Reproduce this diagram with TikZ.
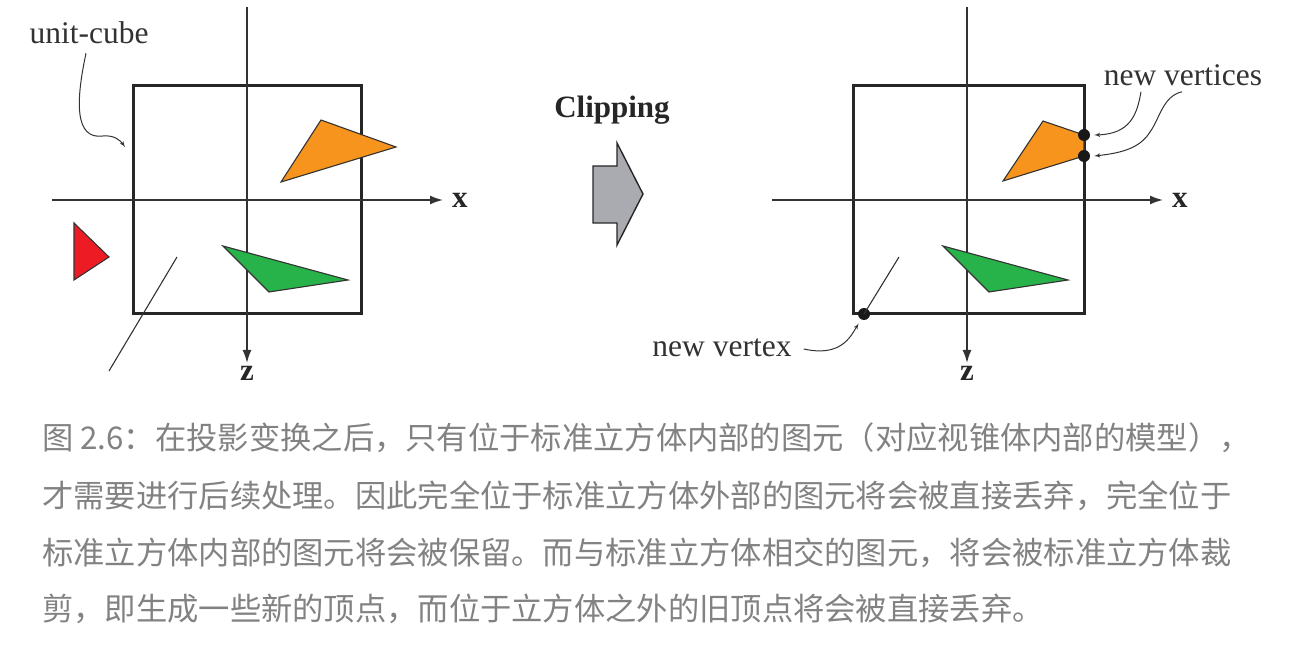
\documentclass[tikz,border=0pt]{standalone}
\usepackage{fontspec}
\setmainfont{Liberation Serif}
\newfontfamily\cjk{Noto Sans CJK SC}
\usetikzlibrary{arrows,arrows.meta,calc,positioning}
\definecolor{triorange}{RGB}{247,148,29}
\definecolor{trigreen}{RGB}{40,178,74}
\definecolor{trired}{RGB}{237,28,36}
\definecolor{labelgray}{RGB}{50,50,50}
\definecolor{capgray}{RGB}{130,130,130}
\definecolor{arrowgray}{RGB}{170,171,176}

\begin{document}
\begin{tikzpicture}[x=1pt,y=-1pt,>=latex']
	\tikzstyle{cube} = [draw=black!85, line width=3pt]
	\tikzstyle{axis} = [draw=black!80, line width=1.6pt, -{Latex[length=13pt,width=9pt]}]
	\tikzstyle{tri} = [draw=black!80, line width=1.1pt]
	\tikzstyle{lbl} = [font=\fontsize{31.5}{36}\selectfont, text=labelgray, inner sep=0pt]
	\tikzstyle{axlbl} = [font=\fontsize{31}{34}\selectfont\bfseries, text=black!85, inner sep=0pt]
	\tikzstyle{pointer} = [->, draw=black!80, line width=1pt]
	\tikzstyle{newpt} = [circle, fill=black!90, inner sep=0pt, minimum size=12pt]
	\tikzstyle{caption} = [font=\cjk\fontsize{31.3}{36}\selectfont, text=capgray, anchor=west, inner sep=0pt]
	
	\useasboundingbox (0,0) rectangle (1299,652);
	
	% before clipping
	\draw [cube] (133,86) rectangle (361,314);
	\coordinate (Lxs) at (52,200);
	\coordinate (Lxe) at (443,200);
	\coordinate (Lzs) at (247,7);
	\coordinate (Lze) at (247,363);
	\draw [axis] (Lxs) -- (Lxe);
	\draw [axis] (Lzs) -- (Lze);
	\node [axlbl, right = 9pt of Lxe] (Lx) {x};
	\node [axlbl, below = 3pt of Lze] (Lz) {z};
	
	\draw [tri, fill=triorange] (321,120) -- (396,147) -- (281,182) -- cycle;
	\draw [tri, fill=trired] (74,223) -- (109,257) -- (74,280) -- cycle;
	\draw [tri, fill=trigreen] (223,246) -- (348,280) -- (269,292) -- cycle;
	\coordinate (Lla) at (177,257);
	\coordinate (Llb) at (109,371);
	\draw [tri] (Lla) -- (Llb);
	
	\node [lbl] (ucube) at (89,33) {unit-cube};
	\coordinate (ucubetip) at (125,147);
	\draw [pointer] ($(ucube.south)+(-3,9)$) .. controls (76,100) and (74,140) .. (103,136) .. controls (114,135) and (120,140) .. (ucubetip);
	
	% clipping step
	\node [font=\fontsize{31}{36}\selectfont\bfseries, text=black!85, inner sep=0pt] (clip) at (612,110) {Clipping};
	\draw [draw=black!85, line width=1.4pt, fill=arrowgray] (593,166) -- (617,166) -- (617,143) -- (643,194) -- (617,245) -- (617,223) -- (593,223) -- cycle;
	
	% after clipping
	\draw [cube] (853,86) rectangle (1084,314);
	\coordinate (Rxs) at (772,200);
	\coordinate (Rxe) at (1163,200);
	\coordinate (Rzs) at (967,7);
	\coordinate (Rze) at (967,363);
	\draw [axis] (Rxs) -- (Rxe);
	\draw [axis] (Rzs) -- (Rze);
	\node [axlbl, right = 9pt of Rxe] (Rx) {x};
	\node [axlbl, below = 3pt of Rze] (Rz) {z};
	
	\draw [tri, fill=triorange] (1043,121) -- (1084,135) -- (1084,156) -- (1003,181) -- cycle;
	\draw [tri, fill=trigreen] (943,246) -- (1068,280) -- (989,292) -- cycle;
	\coordinate (Rla) at (899,257);
	\node [newpt] (nvtx) at (864,314) {};
	\draw [tri] (Rla) -- (nvtx.center);
	\node [newpt] (nv1) at (1084,135) {};
	\node [newpt] (nv2) at (1084,156) {};
	
	\node [lbl] (nvs) at (1183,75) {new vertices};
	\draw [pointer] ($(nvs.south)+(-42,6)$) .. controls (1137,115) and (1130,134) .. ($(nv1.east)+(4,0)$);
	\draw [pointer] ($(nvs.south)+(-1,6)$) .. controls (1163,96) and (1160,118) .. (1150,132) .. controls (1140,148) and (1122,153) .. ($(nv2.east)+(4,0)$);
	
	\node [lbl] (nvl) at (722,348) {new vertex};
	\draw [pointer] ($(nvl.east)+(12,1)$) .. controls (840,357) and (850,338) .. ($(nvtx.south west)+(-1,5)$);
	
	% caption
	\node [caption] (cap1) at (42,438) {图 2.6：在投影变换之后，只有位于标准立方体内部的图元（对应视锥体内部的模型），};
	\node [caption] (cap2) at (42,496) {才需要进行后续处理。因此完全位于标准立方体外部的图元将会被直接丢弃，完全位于};
	\node [caption] (cap3) at (42,553) {标准立方体内部的图元将会被保留。而与标准立方体相交的图元，将会被标准立方体裁};
	\node [caption] (cap4) at (42,609) {剪，即生成一些新的顶点，而位于立方体之外的旧顶点将会被直接丢弃。};
	
\end{tikzpicture}
\end{document}
